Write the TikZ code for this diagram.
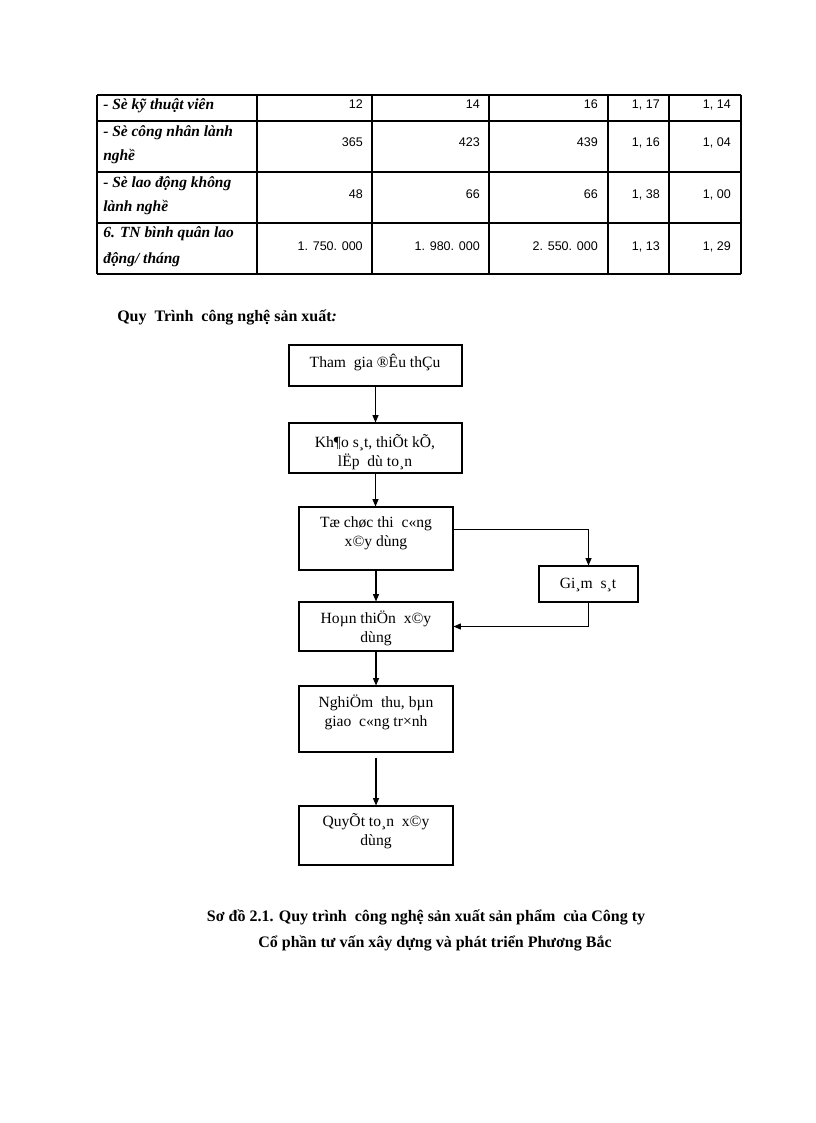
\documentclass[tikz,border=0pt]{standalone}
\usepackage{fontspec}
\setmainfont{Liberation Serif}
\newfontfamily\numfont{Liberation Sans}
\usetikzlibrary{arrows.meta}
\begin{document}
\begin{tikzpicture}[x=0.75pt,y=-0.75pt,
  grid/.style={line width=0.8pt},
  cell/.style={inner sep=0pt, font=\fontsize{11.6}{13}\selectfont\bfseries\itshape, anchor=base west},
  num/.style={inner sep=0pt, font=\numfont\fontsize{9.4}{11}\selectfont, anchor=base east},
  box/.style 2 args={draw, line width=0.8pt, inner sep=0pt, minimum width=#1*0.75pt, minimum height=#2*0.75pt},
  btext/.style={inner sep=0pt, align=center, font=\fontsize{11.7}{14.2}\selectfont, anchor=base},
  arr/.style={line width=0.8pt, -{Triangle[length=5.5pt,width=4.5pt]}},
  ttl/.style={inner sep=0pt, font=\fontsize{12}{15}\selectfont\bfseries}]
\useasboundingbox (0,0) rectangle (816,1123);
\fill[white] (0,0) rectangle (816,1123);

% table grid
\foreach \y in {95,121,172,223,274} \draw[grid] (97,\y) -- (741,\y);
\foreach \x in {97,257,372,489,608,669,741} \draw[grid] (\x,95) -- (\x,274);

% first column
\node[cell] (r1) at (103,110) {- Sè kỹ thuật viên};
\node[cell] (r2a) at (103,137) {- Sè công nhân lành};
\node[cell] (r2b) at (103,161) {nghề};
\node[cell] (r3a) at (103,188) {- Sè lao động không};
\node[cell] (r3b) at (103,212) {lành nghề};
\node[cell] (r4a) at (103,238) {6. TN bình quân lao};
\node[cell] (r4b) at (103,263) {động/ tháng};

% numbers
\node[num] (n11) at (363,109) {12};
\node[num] (n12) at (480,109) {14};
\node[num] (n13) at (598,109) {16};
\node[num] (n14) at (660,109) {1, 17};
\node[num] (n15) at (731,109) {1, 14};
\node[num] (n21) at (363,147) {365};
\node[num] (n22) at (480,147) {423};
\node[num] (n23) at (598,147) {439};
\node[num] (n24) at (660,147) {1, 16};
\node[num] (n25) at (731,147) {1, 04};
\node[num] (n31) at (363,199) {48};
\node[num] (n32) at (480,199) {66};
\node[num] (n33) at (598,199) {66};
\node[num] (n34) at (660,199) {1, 38};
\node[num] (n35) at (731,199) {1, 00};
\node[num] (n41) at (363,250) {1. 750. 000};
\node[num] (n42) at (480,250) {1. 980. 000};
\node[num] (n43) at (598,250) {2. 550. 000};
\node[num] (n44) at (660,250) {1, 13};
\node[num] (n45) at (731,250) {1, 29};

% heading
\node[ttl, anchor=base west] (hd) at (117,321) {Quy\ \ Trình\ \ công nghệ\ sản xuất\textit{:}};

% flowchart boxes
\node[box={173}{41}] (b1) at (375.5,365.5) {};
\node[box={173}{50}] (b2) at (375.5,448) {};
\node[box={154}{63}] (b3) at (376,538.5) {};
\node[box={99}{36}]  (gs) at (588.5,584) {};
\node[box={154}{49}] (b4) at (376,626.5) {};
\node[box={154}{66}] (b5) at (376,719) {};
\node[box={154}{59}] (b6) at (376,835.5) {};

% box texts (base = baseline of last line)
\node[btext] (t1) at (375,367) {Tham\ \ gia ®Êu thÇu};
\node[btext] (t2) at (375,466) {Kh¶o s¸t, thiÕt kÕ,\\ lËp\ \ dù to¸n};
\node[btext] (t3) at (376,546) {Tæ chøc thi\ \ c«ng\\ x©y dùng};
\node[btext] (t4) at (588,588) {Gi¸m\ \ s¸t};
\node[btext] (t5) at (376,642) {Hoµn thiÖn\ \ x©y\\ dùng};
\node[btext] (t6) at (376,726) {NghiÖm\ \ thu, bµn\\ giao\ \ c«ng tr×nh};
\node[btext] (t7) at (376,845) {QuyÕt to¸n\ \ x©y\\ dùng};

% connectors
\draw[arr] (b1.south) -- (b1.south |- b2.north);
\draw[arr] (b2.south) -- (b2.south |- b3.north);
\draw[arr] (b3.south) -- (b3.south |- b4.north);
\draw[arr] (b4.south) -- (b4.south |- b5.north);
\draw[arr] ([yshift=-3.75pt]b5.south) -- (b5.south |- b6.north);
\draw[arr] ([yshift=-17.25pt]b3.north east) -| (gs.north);
\draw[arr] (gs.south) |- (b4.east);

% caption
\node[ttl, anchor=base] (c1) at (426,921) {Sơ đồ 2.1. Quy trình\ \ công nghệ sản xuất sản phẩm\ \ của Công ty};
\node[ttl, anchor=base] (c2) at (435,947) {Cổ phần tư vấn xây dựng và phát triển Phương Bắc};
\end{tikzpicture}
\end{document}
